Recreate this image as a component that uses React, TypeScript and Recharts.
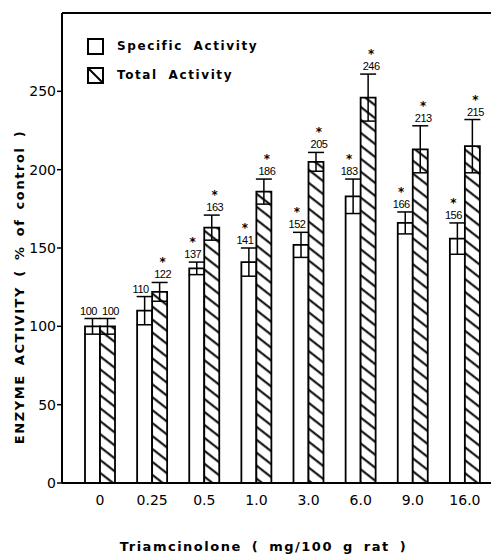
import { BarChart, Bar, XAxis, YAxis, ErrorBar, LabelList, Legend, ReferenceLine } from 'recharts'

const doses = ['0', '0.25', '0.5', '1.0', '3.0', '6.0', '9.0', '16.0']
const specific = [100, 110, 137, 141, 152, 183, 166, 156]
const specificErr = [5, 9, 4, 9, 8, 11, 7, 10]
const specificSig = [false, false, true, true, true, true, true, true]
const total = [100, 122, 163, 186, 205, 246, 213, 215]
const totalErr = [5, 6, 8, 8, 6, 15, 15, 17]
const totalSig = [false, true, true, true, true, true, true, true]
const yTicks = [0, 50, 100, 150, 200, 250]

const FONT = '"DejaVu Sans", sans-serif'
const NUM_FONT = "'Liberation Sans', sans-serif"

const data = doses.map((dose, i) => ({
  dose,
  specific: specific[i],
  specificErr: specificErr[i],
  total: total[i],
  totalErr: totalErr[i],
}))

// value label sits above the error bar cap, star on top when significant
const makeLabel = (errs: number[], sig: boolean[], shift: number) => (props: any) => {
  const x = Number(props.x)
  const y = Number(props.y)
  const width = Number(props.width)
  const height = Number(props.height)
  const value = Number(props.value)
  const i = props.index as number
  const pxPerUnit = height / value
  const top = y - errs[i] * pxPerUnit
  const cx = x + width / 2 + shift
  if (!sig[i]) {
    return (
      <text x={cx} y={top - 4} textAnchor="middle" fontSize={11} fontFamily={NUM_FONT} letterSpacing={-0.5} fill="#000">
        {value}
      </text>
    )
  }
  return (
    <text x={cx} y={top - 16} textAnchor="middle" fill="#000">
      <tspan x={cx} fontSize={12} fontWeight="bold" fontFamily={FONT}>*</tspan>
      <tspan x={cx} dy={12} fontSize={11} fontFamily={NUM_FONT} letterSpacing={-0.5}>{value}</tspan>
    </text>
  )
}

const LegendBox = () => (
  <div style={{ fontFamily: FONT, fontSize: 12, fontWeight: 'bold', letterSpacing: 1.6, wordSpacing: 5, color: '#000' }}>
    <div style={{ display: 'flex', alignItems: 'center', height: 18, marginBottom: 11 }}>
      <svg width={17} height={17} style={{ marginRight: 13 }}>
        <rect x={1} y={1} width={15} height={15} fill="#fff" stroke="#000" strokeWidth={2} />
      </svg>
      <span>Specific Activity</span>
    </div>
    <div style={{ display: 'flex', alignItems: 'center', height: 18 }}>
      <svg width={17} height={17} style={{ marginRight: 13 }}>
        <rect x={1} y={1} width={15} height={15} fill="#fff" stroke="#000" strokeWidth={2} />
        <line x1={1} y1={1} x2={16} y2={16} stroke="#000" strokeWidth={2} />
      </svg>
      <span>Total Activity</span>
    </div>
  </div>
)

const YTitle = () => (
  <text
    transform="translate(19,287) rotate(-90)"
    textAnchor="middle"
    dominantBaseline="central"
    fill="#000"
    fontSize={13}
    fontWeight="bold"
    fontFamily={FONT}
    letterSpacing={1.6}
    wordSpacing={3}
  >
    ENZYME ACTIVITY ( % of control )
  </text>
)

export default function App() {
  return (
    <div style={{ position: 'absolute', left: 0, top: 0, width: 496, height: 556, background: '#fff' }}>
      <BarChart
        width={496}
        height={556}
        data={data}
        margin={{ top: 13, right: 5, left: 0, bottom: 0 }}
        barGap={0}
        barSize={15}
      >
        <defs>
          <pattern id="hatch" patternUnits="userSpaceOnUse" width={10} height={10.2} patternTransform="rotate(38)">
            <rect width={10} height={10.2} fill="#fff" />
            <line x1={0} y1={5} x2={10} y2={5} stroke="#000" strokeWidth={2} />
          </pattern>
        </defs>
        <XAxis
          dataKey="dose"
          padding={{ left: 12, right: 0 }}
          height={73}
          tickLine={false}
          tickSize={0}
          tickMargin={12}
          axisLine={{ stroke: '#000', strokeWidth: 2 }}
          tick={{ fill: '#000', fontSize: 14, fontFamily: FONT }}
          label={{
            value: 'Triamcinolone ( mg/100 g rat )',
            position: 'insideBottom',
            offset: 5,
            dx: -13,
            fill: '#000',
            fontSize: 13,
            fontFamily: FONT,
            fontWeight: 'bold',
            letterSpacing: 1.5,
            wordSpacing: 4,
          }}
        />
        <YAxis
          width={62}
          domain={[0, 300]}
          ticks={yTicks}
          tickSize={5}
          tickMargin={1}
          axisLine={{ stroke: '#000', strokeWidth: 2 }}
          tickLine={{ stroke: '#000', strokeWidth: 1.5 }}
          tick={{ fill: '#000', fontSize: 14, fontFamily: FONT }}
          label={{ content: <YTitle /> }}
        />
        <ReferenceLine y={300} stroke="#000" strokeWidth={2} />
        <Legend
          layout="horizontal"
          verticalAlign="middle"
          align="center"
          content={<LegendBox />}
          wrapperStyle={{ top: 37, left: 87, width: 220, height: 60 }}
        />
        <Bar dataKey="specific" fill="#fff" stroke="#000" strokeWidth={1.8} isAnimationActive={false}>
          <ErrorBar dataKey="specificErr" width={8} stroke="#000" strokeWidth={1.5} />
          <LabelList dataKey="specific" content={makeLabel(specificErr, specificSig, -4)} />
        </Bar>
        <Bar dataKey="total" fill="url(#hatch)" stroke="#000" strokeWidth={1.8} isAnimationActive={false}>
          <ErrorBar dataKey="totalErr" width={8} stroke="#000" strokeWidth={1.5} />
          <LabelList dataKey="total" content={makeLabel(totalErr, totalSig, 3)} />
        </Bar>
      </BarChart>
    </div>
  )
}
